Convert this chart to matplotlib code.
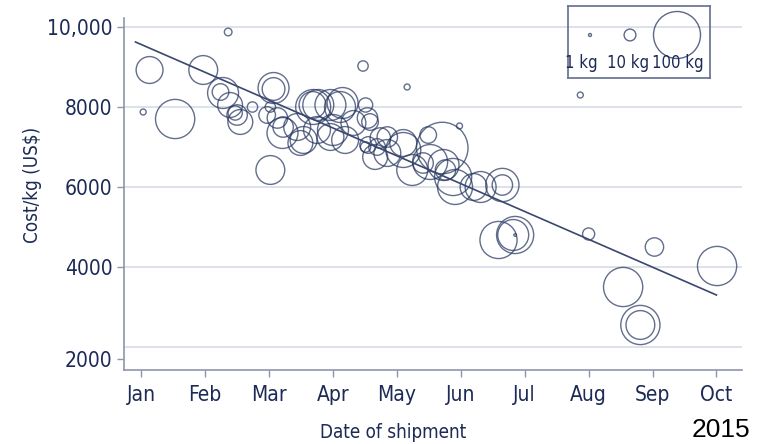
import numpy as np
import matplotlib as mpl
mpl.use('Agg')
import matplotlib.pyplot as plt

# month position (0 = Jan), cost per kg (US$), shipment mass (kg)
month = [1.36, 0.13, 0.03, 0.53, 0.97, 1.24, 1.28, 1.39, 1.50, 1.55,
         1.47, 1.74, 2.02, 2.07, 2.07, 2.02, 1.97, 2.13, 2.22, 2.21,
         2.49, 2.44, 2.68, 2.69, 2.77, 2.96, 3.11, 3.15, 3.51, 3.54,
         2.75, 3.00, 3.32, 3.58, 2.54, 3.19, 2.96, 3.55, 3.51, 3.69,
         3.74, 3.66, 3.47, 4.16, 4.98, 6.87, 3.85, 3.85, 4.10, 4.10,
         4.49, 4.71, 4.52, 4.73, 4.41, 4.76, 4.24, 4.88, 5.20, 5.31,
         5.65, 5.65, 4.91, 5.59, 5.82, 5.85, 5.85, 7.00, 8.03, 7.54,
         7.81, 7.81, 9.01]
cost = [9875, 8925, 7875, 7700, 8925, 8375, 8350, 8050, 7800, 7625,
        7850, 8000, 6425, 8475, 8450, 8000, 7800, 7725, 7500, 7350,
        7100, 7500, 8050, 8000, 8050, 8050, 8000, 8100, 8050, 7725,
        7425, 7425, 7600, 7625, 7175, 7175, 7250, 7050, 7000, 7000,
        7225, 6750, 9025, 8500, 7525, 8300, 7250, 6850, 7100, 6925,
        7300, 6975, 6625, 6550, 6600, 6425, 6425, 6250, 6000, 6000,
        6050, 6050, 6000, 4675, 4800, 4800, 4800, 4825, 4500, 3500,
        2550, 2550, 4025]
mass = [6, 49, 4, 92, 55, 22, 62, 43, 31, 43,
        17, 10, 55, 62, 37, 10, 22, 31, 31, 62,
        43, 49, 49, 76, 62, 62, 62, 62, 17, 31,
        49, 62, 43, 22, 49, 49, 49, 22, 10, 22,
        31, 43, 10, 4, 4, 4, 31, 49, 49, 76,
        22, 145, 76, 62, 31, 31, 62, 84, 49, 62,
        31, 70, 76, 84, 62, 84, 1, 13, 26, 92,
        92, 55, 92]

trend_x = [-0.09, 9.0]
trend_y = [9625, 3300]

months = ['Jan', 'Feb', 'Mar', 'Apr', 'May', 'Jun', 'Jul', 'Aug', 'Sep', 'Oct']
ytick_labels = ['2000', '4000', '6000', '8000', '10,000']
grid_vals = [2000, 4000, 6000, 8000, 10000]

legend_mass = [1, 10, 100]
legend_labels = ['1 kg', '10 kg', '100 kg']

navy = '#26365f'
txt = '#1c2a55'
axc = '#8e96ab'

plt.rcParams['font.family'] = ['DejaVu Sans']
plt.rcParams['font.stretch'] = 'condensed'


def msize(m):
    # marker area in pt^2 from mass
    d_px = 2 * 1.3 * np.asarray(m, dtype=float) ** 0.6
    return (d_px * 0.72) ** 2


fig = plt.figure(figsize=(7.78, 4.44), dpi=100)
ax = fig.add_axes([124 / 778, 74 / 444, 618 / 778, 352 / 444])

for g in grid_vals:
    ax.axhline(g, color='#d6dbe6', lw=1.2, zorder=0)

ax.scatter(month, cost, s=msize(mass), facecolors='none', edgecolors=navy,
           linewidths=1.0, alpha=0.72, zorder=2)
ax.plot(trend_x, trend_y, color='#3a476e', lw=1.2, zorder=3)

ax.set_xlim(-0.27, 9.4)
ax.set_ylim(1425, 10225)
ax.set_xticks(range(len(months)))
ax.set_xticklabels(months)
# bottom label sits a little below its gridline in the original
ax.set_yticks([1700, 4000, 6000, 8000, 10000])
ax.set_yticklabels(ytick_labels)

for s in ['top', 'right']:
    ax.spines[s].set_visible(False)
for s in ['left', 'bottom']:
    ax.spines[s].set_color(axc)
    ax.spines[s].set_linewidth(1.2)
ax.tick_params(axis='both', colors=axc, labelcolor=txt, labelsize=15,
               length=5, width=1)
ax.tick_params(axis='x', pad=6)

ax.set_xlabel('Date of shipment', color=txt, fontsize=13.5)
ax.xaxis.set_label_coords(0.435, -0.15)
ax.set_ylabel('Cost/kg (US$)', color=txt, fontsize=13.5)
ax.yaxis.set_label_coords(-0.132, 0.525)

fig.text(721 / 778, 14 / 444, '2015', fontsize=19, color='black',
         family='Liberation Sans', stretch='normal', ha='center', va='center')

# size legend box
lax = fig.add_axes([568 / 778, 366 / 444, 142 / 778, 72 / 444])
lax.set_xlim(0, 142)
lax.set_ylim(72, 0)
lax.set_xticks([])
lax.set_yticks([])
for s in lax.spines.values():
    s.set_color('#6d7797')
    s.set_linewidth(1.3)
lax.patch.set_alpha(0)
lx = [22, 62, 109]
tx = [13, 60, 110]
lax.scatter(lx, [29, 29, 29], s=msize(legend_mass) * 1.3, facecolors='none',
            edgecolors=navy, linewidths=1.0, alpha=0.75)
for x, t in zip(tx, legend_labels):
    lax.text(x, 57, t, ha='center', va='center', fontsize=12, color=txt)

fig.savefig('out.png', dpi=100)
